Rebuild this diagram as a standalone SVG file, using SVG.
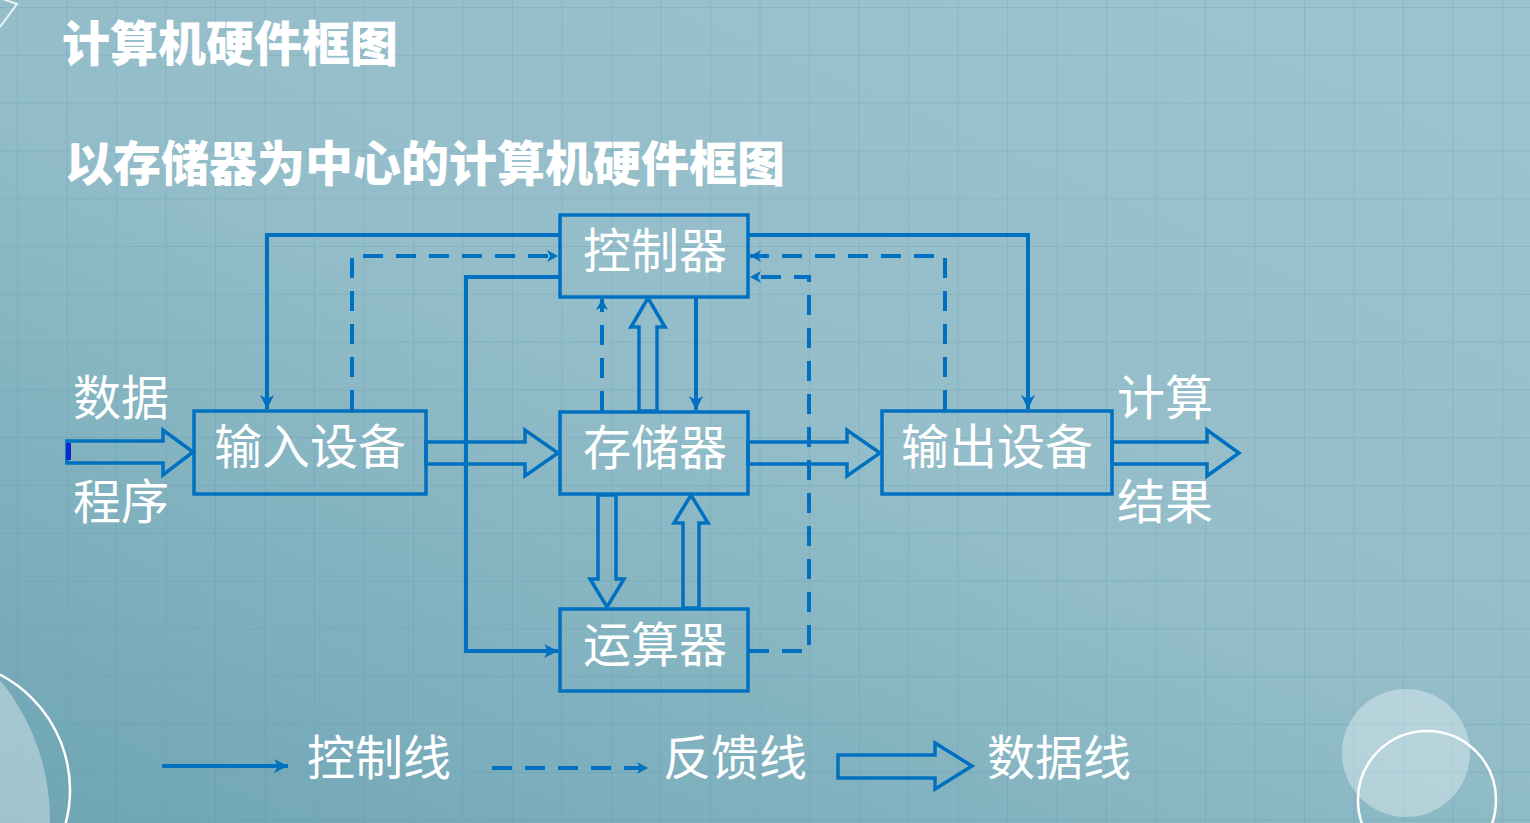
<svg xmlns="http://www.w3.org/2000/svg" width="1530" height="823" viewBox="0 0 1530 823">
  <defs>
    <linearGradient id="bg" x1="0.8" y1="0" x2="0" y2="1">
      <stop offset="0" stop-color="#9cc2ce"/>
      <stop offset="0.45" stop-color="#93bdc9"/>
      <stop offset="1" stop-color="#6ea5b4"/>
    </linearGradient>
    <pattern id="grid" patternUnits="userSpaceOnUse" x="17" y="7" width="49.5" height="47.8">
      <path d="M0,0 H49.5 M0,0 V47.8" stroke="#5a8ea6" stroke-opacity="0.25" stroke-width="2" fill="none"/>
    </pattern>
    <marker id="ah" markerUnits="userSpaceOnUse" markerWidth="16" markerHeight="16" refX="14" refY="7" orient="auto">
      <path d="M0,0 L14,7 L0,14 L4,7 Z" fill="#0070c0"/>
    </marker>
    <marker id="ahs" markerUnits="userSpaceOnUse" markerWidth="14" markerHeight="14" refX="11" refY="6" orient="auto">
      <path d="M0,0 L11,6 L0,12 L3,6 Z" fill="#0070c0"/>
    </marker>
  </defs>
  <style>
    .box { fill: none; stroke: #0070c0; stroke-width: 3.5; }
    .lbl { font-family: "Noto Sans CJK SC", "Noto Sans CJK JP", sans-serif; font-size: 48px; fill: #ffffff; font-weight: normal; }
    .ttl { font-family: "Noto Sans CJK SC", "Noto Sans CJK JP", sans-serif; font-size: 48px; fill: #ffffff; font-weight: 900; }
    .ctl { fill: none; stroke: #0070c0; stroke-width: 4; marker-end: url(#ah); }
    .fb { fill: none; stroke: #0070c0; stroke-width: 4; stroke-dasharray: 20 13; marker-end: url(#ahs); }
    .data { fill: none; stroke: #0070c0; stroke-width: 3.5; stroke-linejoin: miter; }
  </style>

  <!-- background -->
  <rect x="0" y="0" width="1530" height="823" fill="url(#bg)"/>
  <rect x="0" y="0" width="1530" height="823" fill="url(#grid)"/>
  <!-- decorations -->
  <polyline points="0,27 17,4 0,-2" fill="none" stroke="#ffffff" stroke-opacity="0.8" stroke-width="2"/>
  <circle cx="-171" cy="820" r="221" fill="#ffffff" fill-opacity="0.35"/>
  <circle cx="-60" cy="790" r="130" fill="none" stroke="#ffffff" stroke-width="2.5"/>
  <circle cx="1406" cy="753" r="64" fill="#ffffff" fill-opacity="0.35"/>
  <circle cx="1427" cy="800" r="69" fill="none" stroke="#ffffff" stroke-width="2.5"/>

  <!-- titles -->
  <text class="ttl" x="62" y="61">计算机硬件框图</text>
  <text class="ttl" x="65" y="181">以存储器为中心的计算机硬件框图</text>

  <!-- connectors -->
  <g id="connectors">
    <!-- control lines -->
    <path class="ctl" d="M560,235 H267 V409"/>
    <path class="ctl" d="M560,277 H466 V651 H558"/>
    <path class="ctl" d="M748,235 H1028 V409"/>
    <path class="ctl" d="M696,297 V410"/>
    <!-- feedback lines -->
    <path class="fb" d="M352,410 V256 H558"/>
    <path class="fb" d="M602,411 V299"/>
    <path class="fb" d="M945,410 V256 H750"/>
    <path class="fb" d="M749,651 H809 V277 H750"/>
    <!-- data lines -->
    <polygon class="data" points="67,441 163,441 163,430 193,452 163,475 163,463 67,463"/>
    <rect x="66" y="443" width="5" height="17" fill="#0a2ad0"/>
    <polygon class="data" points="426,442 525,442 525,430 558,453 525,476 525,464 426,464"/>
    <polygon class="data" points="748,442 847,442 847,430 880,453 847,476 847,464 748,464"/>
    <polygon class="data" points="1112,442 1207,442 1207,430 1239,453 1207,476 1207,464 1112,464"/>
    <polygon class="data" points="639,411 639,327 631,327 648,298 665,327 657,327 657,411"/>
    <polygon class="data" points="598,495 598,579 590,579 607,607 624,579 616,579 616,495"/>
    <polygon class="data" points="683,608 683,523 674,523 691,495 708,523 699,523 699,608"/>
  </g>

  <!-- nodes -->
  <g id="controller">
    <rect class="box" x="560" y="215" width="188" height="82"/>
    <text class="lbl" x="655" y="268" text-anchor="middle">控制器</text>
  </g>
  <g id="memory">
    <rect class="box" x="560" y="412" width="188" height="82"/>
    <text class="lbl" x="655" y="465" text-anchor="middle">存储器</text>
  </g>
  <g id="input">
    <rect class="box" x="194" y="411" width="232" height="83"/>
    <text class="lbl" x="310" y="464" text-anchor="middle">输入设备</text>
  </g>
  <g id="output">
    <rect class="box" x="882" y="411" width="230" height="83"/>
    <text class="lbl" x="997" y="464" text-anchor="middle">输出设备</text>
  </g>
  <g id="alu">
    <rect class="box" x="560" y="609" width="188" height="82"/>
    <text class="lbl" x="655" y="662" text-anchor="middle">运算器</text>
  </g>

  <!-- side labels -->
  <g id="side-labels">
    <text class="lbl" x="73" y="415">数据</text>
    <text class="lbl" x="73" y="519">程序</text>
    <text class="lbl" x="1117" y="415">计算</text>
    <text class="lbl" x="1117" y="519">结果</text>
  </g>

  <!-- legend -->
  <g id="legend">
    <path class="ctl" d="M162,766 H288"/>
    <text class="lbl" x="307" y="775">控制线</text>
    <path class="fb" d="M492,768 H648"/>
    <text class="lbl" x="663" y="775">反馈线</text>
    <polygon class="data" points="838,755 935,755 935,743 972,766 935,789 935,778 838,778"/>
    <text class="lbl" x="987" y="775">数据线</text>
  </g>
</svg>
